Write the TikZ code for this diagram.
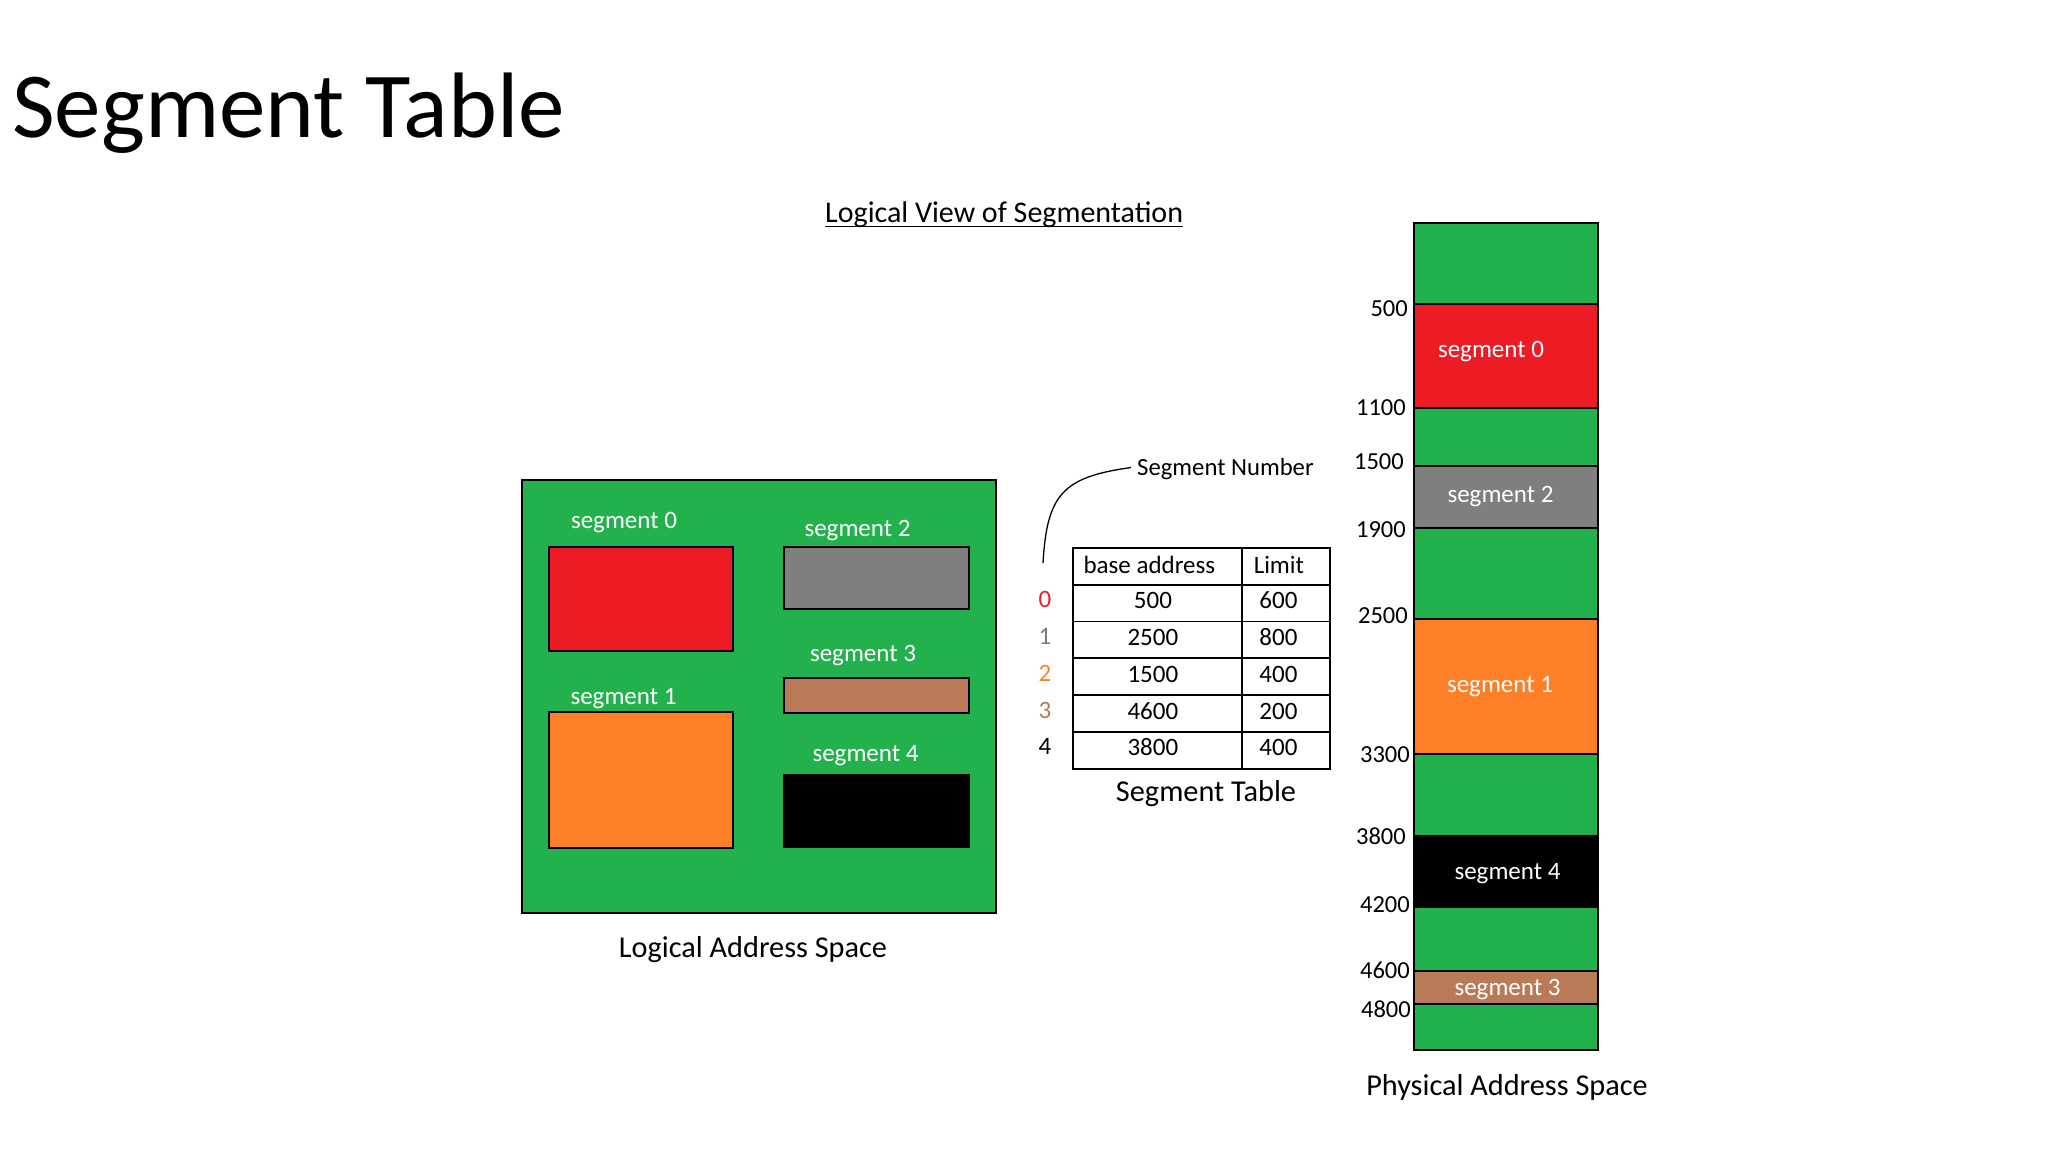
\documentclass[tikz,border=0pt]{standalone}
\usepackage{fontspec}
\setmainfont{Carlito}
\usetikzlibrary{fit,calc}
\definecolor{pgreen}{RGB}{34,177,76}
\definecolor{pred}{RGB}{237,28,36}
\definecolor{pgray}{RGB}{127,127,127}
\definecolor{porange}{RGB}{255,127,39}
\definecolor{pbrown}{RGB}{185,122,87}
\definecolor{idxgray}{RGB}{120,124,135}
\newcommand{\lft}[2]{\hspace*{-#1pt}#2}
\tikzset{
  fsz/.style={font=\fontsize{#1}{#1}\selectfont},
  region/.style={draw=black,line width=1.8pt,inner sep=0pt},
  wlbl/.style={anchor=base,inner sep=0pt,fsz=25,text=white},
  addr/.style={anchor=base east,inner sep=0pt,fsz=24.5},
  captxt/.style={anchor=base,inner sep=0pt,fsz=30.3},
  cell/.style={draw=black,line width=1.8pt,inner sep=0pt,anchor=north west,
    minimum height=36.8pt,text height=16pt,text depth=5pt,fsz=25},
  c1/.style={cell,minimum width=169pt},
  c2/.style={cell,minimum width=88pt},
  hdr/.style={text depth=1pt},
  idx/.style={inner sep=0pt,fsz=25,text height=16pt,text depth=5pt},
}
\begin{document}
\begin{tikzpicture}[x=1pt,y=-1pt]
\useasboundingbox (0,0) rectangle (2048,1152);
\fill[white] (0,0) rectangle (2048,1152);

% titles
\node[anchor=base west,inner sep=0pt,fsz=93] (title) at (12,137) {Segment Table};
\node[anchor=base west,inner sep=0pt,fsz=30] (view) at (825,222) {Logical View of Segmentation};
\draw[line width=1.6pt] ($(view.base west)+(0,4.5)$) -- ($(view.base east)+(0,4.5)$);

% logical address space
\node[region,fill=pgreen,fit={(522,480) (996,913)}] (lbox) {};
\node[region,fill=pred,fit={(549,547) (733,651)}] (l0) {};
\node[region,fill=pgray,fit={(784,547) (969,609)}] (l2) {};
\node[region,fill=pbrown,fit={(784,678) (969,713)}] (l3) {};
\node[region,fill=porange,fit={(549,712) (733,848)}] (l1) {};
\node[region,fill=black,fit={(784,775) (969,847)}] (l4) {};
\node[wlbl] (tl0) at (624,528.5) {segment 0};
\node[wlbl] (tl2) at (857.5,536.7) {segment 2};
\node[wlbl] (tl3) at (863,661) {segment 3};
\node[wlbl] (tl1) at (623.5,704) {segment 1};
\node[wlbl] (tl4) at (865.5,761.7) {segment 4};
\node[captxt] (lcap) at (753,957) {Logical Address Space};

% segment table
\node[c1,hdr] (h1) at (1072,547) {\lft{16}{base address}};
\node[c2,hdr] (h2) at (1241,547) {\lft{14}{Limit}};
\node[c1] (b0) at (1072,583.8) {\lft{9}{500}};
\node[c2] (m0) at (1241,583.8) {\lft{15}{600}};
\node[c1] (b1) at (1072,620.6) {\lft{9}{2500}};
\node[c2] (m1) at (1241,620.6) {\lft{15}{800}};
\node[c1] (b2) at (1072,657.4) {\lft{9}{1500}};
\node[c2] (m2) at (1241,657.4) {\lft{15}{400}};
\node[c1] (b3) at (1072,694.2) {\lft{9}{4600}};
\node[c2] (m3) at (1241,694.2) {\lft{15}{200}};
\node[c1] (b4) at (1072,731) {\lft{9}{3800}};
\node[c2] (m4) at (1241,731) {\lft{15}{400}};
\node[idx,text=pred] (i0) at (1045,602.2) {0};
\node[idx,text=idxgray] (i1) at (1045,639) {1};
\node[idx,text=porange] (i2) at (1045,675.8) {2};
\node[idx,text=pbrown] (i3) at (1045,712.6) {3};
\node[idx,text=black] (i4) at (1045,749.4) {4};
\node[anchor=base west,inner sep=0pt,fsz=24.7] (segnum) at (1137,475) {Segment Number};
\coordinate (curveend) at (1043,563);
\draw[line width=1.3pt] ($(segnum.west)+(-6,-1)$) .. controls (1062,477) and (1047,495) .. (curveend);
\node[captxt] (tcap) at (1206,801) {Segment Table};

% physical address space
\node[region,fill=pgreen,fit={(1414,223) (1598,304)}] (p0) {};
\node[region,fill=pred,fit={(1414,304) (1598,408)}] (p1) {};
\node[region,fill=pgreen,fit={(1414,408) (1598,466)}] (p2) {};
\node[region,fill=pgray,fit={(1414,466) (1598,528)}] (p3) {};
\node[region,fill=pgreen,fit={(1414,528) (1598,619)}] (p4) {};
\node[region,fill=porange,fit={(1414,619) (1598,754)}] (p5) {};
\node[region,fill=pgreen,fit={(1414,754) (1598,836)}] (p6) {};
\node[region,fill=black,fit={(1414,836) (1598,907)}] (p7) {};
\node[region,fill=pgreen,fit={(1414,907) (1598,971)}] (p8) {};
\node[region,fill=pbrown,fit={(1414,971) (1598,1004)}] (p9) {};
\node[region,fill=pgreen,fit={(1414,1004) (1598,1050)}] (p10) {};
\node[wlbl] (ps0) at (1491,357.7) {segment 0};
\node[wlbl] (ps2) at (1500.5,502.7) {segment 2};
\node[wlbl] (ps1) at (1500,692.7) {segment 1};
\node[wlbl] (ps4) at (1507.5,879) {segment 4};
\node[wlbl] (ps3) at (1507.5,995) {segment 3};
\node[addr] (a500) at (1408,316) {500};
\node[addr] (a1100) at (1406,415) {1100};
\node[addr] (a1500) at (1404,469) {1500};
\node[addr] (a1900) at (1406,537) {1900};
\node[addr] (a2500) at (1408,623) {2500};
\node[addr] (a3300) at (1410,762) {3300};
\node[addr] (a3800) at (1406,844) {3800};
\node[addr] (a4200) at (1410,912) {4200};
\node[addr] (a4600) at (1410,978) {4600};
\node[addr] (a4800) at (1411,1017.7) {4800};
\node[captxt] (pcap) at (1507,1095) {Physical Address Space};
\end{tikzpicture}
\end{document}
